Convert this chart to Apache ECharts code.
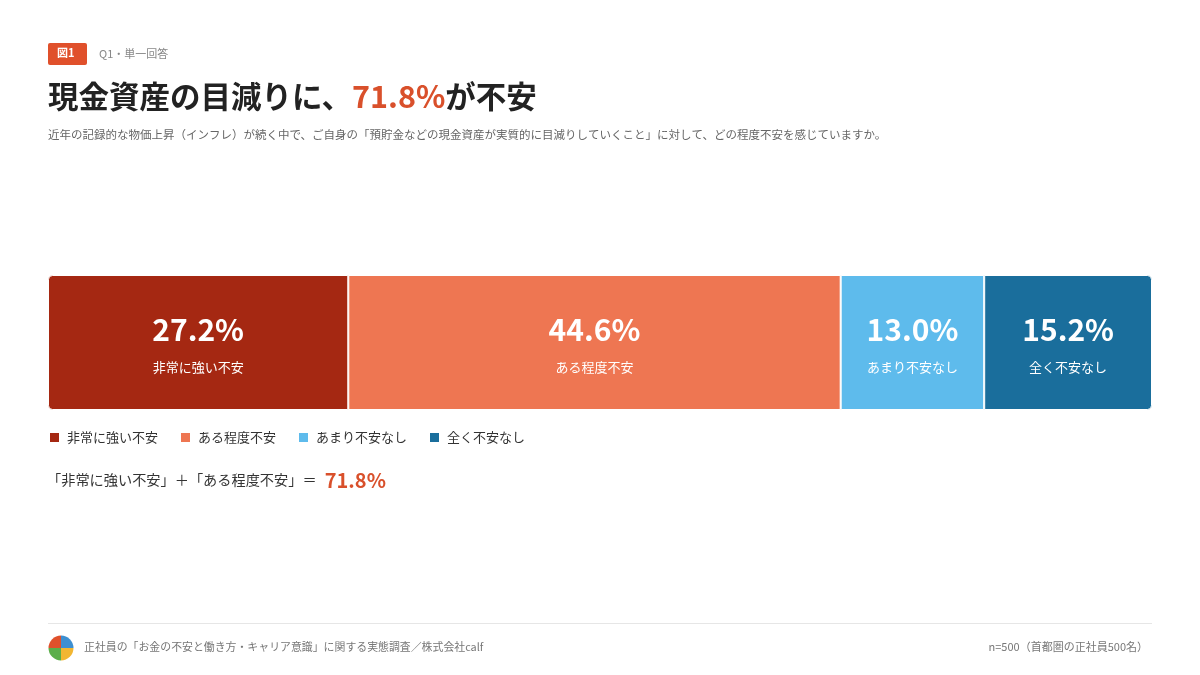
<!DOCTYPE html>
<html><head><meta charset="utf-8">
<script src="https://cdn.jsdelivr.net/npm/echarts@6/dist/echarts.min.js"></script>
<style>html,body{margin:0;padding:0;background:#fff}#c{width:1200px;height:675px}</style>
</head><body><div id="c"></div>
<script>
const categories = ['非常に強い不安', 'ある程度不安', 'あまり不安なし', '全く不安なし'];
const values = [27.2, 44.6, 13.0, 15.2];
const colors = ['#A52812', '#EE7652', '#5EBBEC', '#1A6E9C'];
const totalAnxious = '71.8%';
const FONT = '"Noto Sans CJK JP", "Noto Sans", sans-serif';

const chart = echarts.init(document.getElementById('c'));
const n = values.length;
const series = categories.map((name, i) => ({
  name: name,
  type: 'bar',
  stack: 'total',
  barWidth: 135,
  data: [values[i]],
  itemStyle: {
    color: colors[i],
    borderColor: '#fff',
    borderWidth: 1,
    borderRadius: i === 0 ? [4, 0, 0, 4] : (i === n - 1 ? [0, 4, 4, 0] : 0)
  },
  label: {
    show: true,
    position: 'inside',
    offset: [0, 3],
    formatter: p => '{v|' + p.value.toFixed(1) + '%}\n{n|' + p.seriesName + '}',
    rich: {
      v: { fontSize: 30, fontWeight: 'bold', color: '#fff', fontFamily: FONT, lineHeight: 44 },
      n: { fontSize: 13, color: '#fff', fontFamily: FONT, lineHeight: 32 }
    }
  },
  emphasis: { disabled: true }
}));

chart.setOption({
  animation: false,
  textStyle: { fontFamily: FONT },
  grid: { left: 48, right: 48, top: 275, height: 135 },
  xAxis: { type: 'value', min: 0, max: 100, show: false },
  yAxis: { type: 'category', data: ['Q1'], show: false },
  legend: {
    left: 48, top: 431, padding: 0,
    icon: 'rect', itemWidth: 11, itemHeight: 11, itemGap: 21,
    textStyle: { fontSize: 13, color: '#333', fontFamily: FONT, padding: [0, 0, 0, 2] },
    selectedMode: false,
    data: categories
  },
  series: series,
  graphic: [
    { type: 'rect', left: 48, top: 43, shape: { width: 39, height: 22, r: 2 }, style: { fill: '#E0502B' } },
    { type: 'text', left: 57, top: 47, style: { text: '図1', fill: '#fff', font: 'bold 11px ' + FONT } },
    { type: 'text', left: 99, top: 48, style: { text: 'Q1・単一回答', fill: '#888', font: '11px ' + FONT } },
    { type: 'text', left: 48, top: 81, style: {
      text: '{a|現金資産の目減りに、}{b|' + totalAnxious + '}{a|が不安}',
      rich: {
        a: { fontSize: 30.5, fontWeight: 'bold', fill: '#222', fontFamily: FONT },
        b: { fontSize: 30.5, fontWeight: 'bold', fill: '#D9502B', fontFamily: FONT }
      } } },
    { type: 'text', left: 48, top: 129, style: { text: '近年の記録的な物価上昇（インフレ）が続く中で、ご自身の「預貯金などの現金資産が実質的に目減りしていくこと」に対して、どの程度不安を感じていますか。', fill: '#666', font: '11.5px ' + FONT } },
    { type: 'text', left: 47, top: 470, style: {
      text: '{a|「非常に強い不安」＋「ある程度不安」＝ }{b|' + totalAnxious + '}',
      rich: {
        a: { fontSize: 14.2, fill: '#333', fontFamily: FONT, verticalAlign: 'middle' },
        b: { fontSize: 20, fontWeight: 'bold', fill: '#D9502B', fontFamily: FONT, padding: [0, 0, 0, 5], verticalAlign: 'middle' }
      } } },
    { type: 'line', shape: { x1: 48, y1: 623.5, x2: 1152, y2: 623.5 }, style: { stroke: '#e6e6e6', lineWidth: 1 } },
    { type: 'sector', shape: { cx: 61, cy: 648, r: 12.5, r0: 0, startAngle: Math.PI, endAngle: Math.PI * 1.5 }, style: { fill: '#E0502B' } },
    { type: 'sector', shape: { cx: 61, cy: 648, r: 12.5, r0: 0, startAngle: Math.PI * 1.5, endAngle: Math.PI * 2 }, style: { fill: '#3D8FD1' } },
    { type: 'sector', shape: { cx: 61, cy: 648, r: 12.5, r0: 0, startAngle: 0, endAngle: Math.PI * 0.5 }, style: { fill: '#F2B632' } },
    { type: 'sector', shape: { cx: 61, cy: 648, r: 12.5, r0: 0, startAngle: Math.PI * 0.5, endAngle: Math.PI }, style: { fill: '#5BAE4A' } },
    { type: 'text', left: 84, top: 641, style: { text: '正社員の「お金の不安と働き方・キャリア意識」に関する実態調査／株式会社calf', fill: '#777', font: '10.9px ' + FONT } },
    { type: 'text', right: 52, top: 641, style: { text: 'n=500（首都圏の正社員500名）', fill: '#777', font: '11px ' + FONT } }
  ]
});
</script></body></html>
